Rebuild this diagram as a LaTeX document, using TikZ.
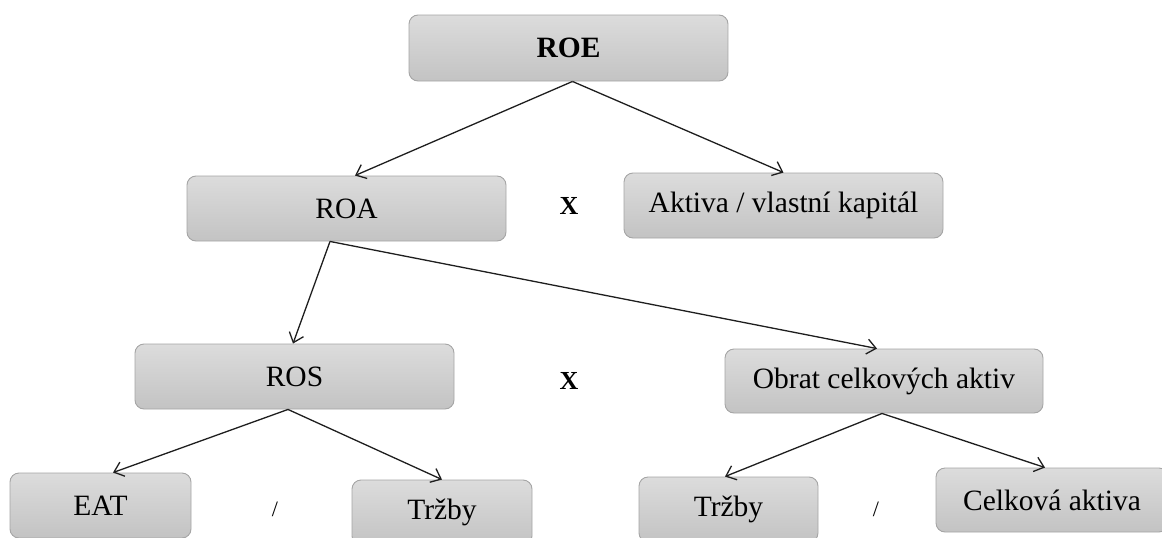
\documentclass[tikz,border=0pt]{standalone}
\usepackage{fontspec}
\setmainfont{Liberation Serif}
\usetikzlibrary{arrows.meta,shadings}
\definecolor{boxtop}{RGB}{220,220,220}
\definecolor{boxbot}{RGB}{195,195,195}
\definecolor{boxline}{RGB}{165,165,165}
\definecolor{arrowcol}{RGB}{30,30,30}
\tikzset{
  box/.style={draw=boxline, line width=0.9pt, rounded corners=9pt,
    top color=boxtop, bottom color=boxbot, minimum height=65pt,
    inner sep=0pt, font=\fontsize{29.5}{33}\selectfont},
  conn/.style={draw=arrowcol, line width=1.3pt,
    -{Straight Barb[length=9pt,width=15pt,line width=1.3pt]}},
  opx/.style={font=\fontsize{26}{30}\selectfont\bfseries},
  opslash/.style={font=\fontsize{22}{26}\selectfont}
}
\begin{document}
\begin{tikzpicture}[x=1pt,y=-1pt]
\useasboundingbox (0,0) rectangle (1162,538);
\begin{scope}
\clip (0,0) rectangle (1162,538);
\node[box, minimum width=319pt, minimum height=66pt, font=\fontsize{29.5}{33}\selectfont\bfseries] (ROE) at (568.5,48) {ROE};
\node[box, minimum width=319pt] (ROA) at (346.5,208.5) {ROA};
\node[box, minimum width=319pt] (AK) at (783.5,205.5) {Aktiva / vlastní kapitál};
\node[box, minimum width=319pt] (ROS) at (294.5,376.5) {ROS};
\node[box, minimum width=318pt, minimum height=64pt] (OCA) at (884,381) {Obrat celkových aktiv};
\node[box, minimum width=181pt] (EAT) at (100.5,505.5) {EAT};
\node[box, minimum width=180pt] (T1) at (442,512.5) {Tržby};
\node[box, minimum width=179pt] (T2) at (728.5,509.5) {Tržby};
\node[box, minimum width=232pt, minimum height=64pt] (CA) at (1052,500) {Celková aktiva};

\node[opx] (x1) at (569,206) {X};
\node[opx] (x2) at (569,381) {X};
\node[opslash] (s1) at (275,509) {/};
\node[opslash] (s2) at (876,509) {/};

\draw[conn] ([xshift=4pt]ROE.south) -- ([xshift=8.5pt]ROA.north);
\draw[conn] ([xshift=4pt]ROE.south) -- (AK.north);
\draw[conn] ([xshift=-16.5pt]ROA.south) -- ([xshift=-1.5pt]ROS.north);
\draw[conn] ([xshift=-16.5pt]ROA.south) -- ([xshift=-7pt]OCA.north);
\draw[conn] ([xshift=-6.5pt]ROS.south) -- ([xshift=12.5pt]EAT.north);
\draw[conn] ([xshift=-6.5pt]ROS.south) -- (T1.north);
\draw[conn] ([xshift=-2pt]OCA.south) -- ([xshift=-3.5pt]T2.north);
\draw[conn] ([xshift=-2pt]OCA.south) -- ([xshift=-7pt]CA.north);
\end{scope}
\end{tikzpicture}
\end{document}
